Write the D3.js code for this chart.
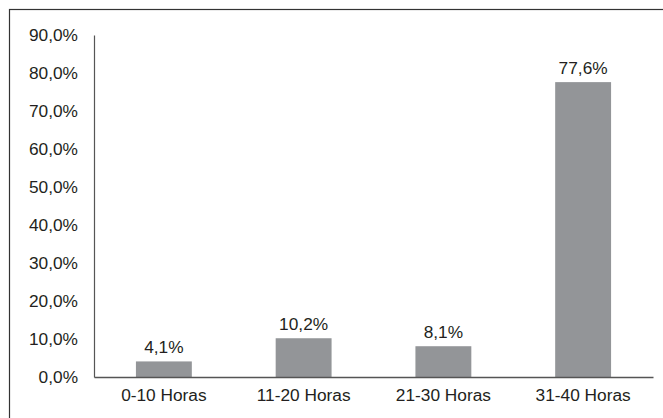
<!DOCTYPE html>
<html>
<head>
<meta charset="utf-8">
<script src="https://cdn.jsdelivr.net/npm/d3@7"></script>
<style>
  html, body { margin: 0; padding: 0; background: #fff; }
  svg { display: block; }
  text { font-family: "Liberation Sans", Arial, Helvetica, sans-serif; fill: #231f20; }
</style>
</head>
<body>
<svg id="chart" width="663" height="418"></svg>
<script>
const categories = ["0-10 Horas", "11-20 Horas", "21-30 Horas", "31-40 Horas"];
const values = [4.1, 10.2, 8.1, 77.6];
const yTicks = [0, 10, 20, 30, 40, 50, 60, 70, 80, 90];

(function () {
const svg = d3.select("#chart");
const W = 663, H = 418;
const mLeft = 94, mRight = 653, mTop = 35, mBottom = 377;
const fontSize = 17.3;
const fmt = v => d3.format(".1f")(v).replace(".", ",") + "%";

// outer frame (only top and left visible, extends past canvas)
svg.append("rect")
  .attr("x", 9.5).attr("y", 9.5)
  .attr("width", W + 20).attr("height", H + 20)
  .attr("fill", "none").attr("stroke", "#333").attr("stroke-width", 1.2);

const x = d3.scaleBand().domain(categories).range([mLeft, mRight])
  .paddingInner(0.6).paddingOuter(0.3);
const y = d3.scaleLinear().domain([0, 90]).range([mBottom, mTop]);

// bars
svg.selectAll("rect.bar").data(values).enter().append("rect")
  .attr("class", "bar")
  .attr("x", (d, i) => x(categories[i]))
  .attr("width", x.bandwidth())
  .attr("y", d => y(d))
  .attr("height", d => y(0) - y(d))
  .attr("fill", "#939598");

// value labels
svg.selectAll("text.val").data(values).enter().append("text")
  .attr("class", "val")
  .attr("x", (d, i) => x(categories[i]) + x.bandwidth() / 2)
  .attr("y", d => y(d) - 8.5)
  .attr("text-anchor", "middle")
  .attr("font-size", fontSize)
  .text(d => fmt(d));

// y axis
const yAxis = d3.axisLeft(y).tickValues(yTicks).tickSize(0).tickPadding(16)
  .tickFormat(d => fmt(d));
const gy = svg.append("g").attr("transform", `translate(${mLeft},0)`).call(yAxis);
gy.select(".domain").attr("stroke", "#555").attr("stroke-width", 1.2);
gy.selectAll("text").attr("font-size", fontSize).attr("font-family", '"Liberation Sans", Arial, sans-serif').attr("fill", "#231f20");

// x axis
const xAxis = d3.axisBottom(x).tickSize(0).tickPadding(12);
const gx = svg.append("g").attr("transform", `translate(0,${mBottom})`).call(xAxis);
gx.select(".domain").attr("stroke", "#555").attr("stroke-width", 1.4);
gx.selectAll("text").attr("font-size", fontSize).attr("font-family", '"Liberation Sans", Arial, sans-serif').attr("fill", "#231f20");
})();
</script>
</body>
</html>
